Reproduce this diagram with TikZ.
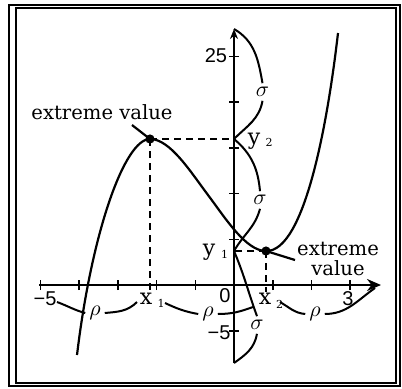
\documentclass[tikz,border=0pt]{standalone}
\usepackage{fontspec}
\setmainfont{DejaVu Serif}
\newfontfamily\numfont{Liberation Sans}
\usetikzlibrary{arrows.meta}
\begin{document}
\begin{tikzpicture}[x=0.5pt,y=0.5pt,line width=1.1pt,
  curve/.style={line width=1.1pt},
  brace/.style={line width=1pt},
  proj/.style={line width=1pt,dash pattern=on 3.5pt off 2.5pt},
  lbl/.style={font=\fontsize{9.8}{10}\selectfont,inner sep=0pt},
  sym/.style={font=\fontsize{11}{11}\selectfont,inner sep=0pt},
  sub/.style={font=\fontsize{5.5}{6}\selectfont,inner sep=0pt},
  num/.style={font=\numfont\fontsize{10}{10}\selectfont,inner sep=0pt},
  greek/.style={font=\fontsize{11}{11}\selectfont,inner sep=1.5pt},
  dot/.style={circle,fill,inner sep=0pt,minimum size=4.6pt},
  tickmark/.style={line width=0.8pt}]
\useasboundingbox (0,0) rectangle (402,388);
% frame
\draw[line width=0.8pt] (9,2) rectangle (400,383);
\draw[line width=1.3pt] (16,5) rectangle (396,380);
% key points
\coordinate (O) at (234,103);
\coordinate (xl) at (39,103);
\coordinate (xr) at (381,103);
\coordinate (yb) at (234,25);
\coordinate (yt) at (234,359);
\coordinate (M) at (150,249);
\coordinate (m) at (266,137);
\coordinate (y2) at (234,249);
\coordinate (y1) at (234,137);
\coordinate (x1) at (150,96);
\coordinate (x2) at (266,96);
% axes
\draw[-{Stealth[length=7pt,width=6pt]}] (xl) -- (xr);
\draw[-{Stealth[length=5pt,width=4pt]}] (yb) -- (yt);
\foreach \k in {-5,-4,-3,-2,-1,1,2,3} \draw[tickmark] ({234+38.7*\k},98) -- ++(0,10);
\foreach \k in {-5,5,10,15,20,25} \draw[tickmark] (229,{103+9.14*\k}) -- ++(10,0);
% cubic
\draw[curve] (77,33) .. controls (92,158) and (125,249) .. (M)
  .. controls (170,249) and (190,217) .. (208,193)
  .. controls (226,169) and (246,137) .. (m)
  .. controls (305,136) and (328,268) .. (338,355);
% projections
\draw[proj] (M) -- (y2);
\draw[proj] (M) -- (x1);
\draw[proj] (m) -- (y1);
\draw[proj] (m) -- (x2);
\node[dot] (Md) at (M) {};
\node[dot] (md) at (m) {};
% extreme value labels
\node[lbl] (ev1) at (102,276) {extreme value};
\coordinate (p1) at (132,263);
\draw[curve] (p1) -- (Md.center);
\node[lbl,align=center,font=\fontsize{9.8}{10}\selectfont] (ev2) at (338,129) {extreme\\value};
\coordinate (p2) at (295,128);
\draw[curve] (md.center) -- (p2);
% numbers
\node[num] (n25) at (216,332.5) {25};
\node[num] (nm5y) at (219,55.5) {−5};
\node[num] (n0) at (225,92.5) {0};
\node[num] (n3) at (348,89.5) {3};
\node[num] (nm5x) at (45,89.5) {−5};
% variable labels
\node[sym] (lx1) at (146,89.5) {x};
\node[sub] (lx1s) at (161,85) {1};
\node[sym] (lx2) at (265,89) {x};
\node[sub] (lx2s) at (279.5,83.5) {2};
\node[sym] (ly1) at (209,135.5) {y};
\node[sub] (ly1s) at (224.5,133.5) {1};
\node[sym] (ly2) at (254,247) {y};
\node[sub] (ly2s) at (269,245.5) {2};
% sigma and rho labels
\node[greek] (s1) at (262.5,296) {$\sigma$};
\node[greek] (s2) at (260,188) {$\sigma$};
\node[greek] (s3) at (257,63) {$\sigma$};
\node[greek] (r1) at (95,75) {$\rho$};
\node[greek] (r2) at (208,74) {$\rho$};
\node[greek] (r3) at (315,74) {$\rho$};
% sigma braces
\draw[brace] (yt) to[out=-30,in=100] (s1.north);
\draw[brace] (s1.south) to[out=-100,in=45] (y2);
\draw[brace] (y2) to[out=-40,in=95] (s2.north);
\draw[brace] (s2.south) to[out=-105,in=60] (y1);
\draw[brace] (y1) to[out=-67,in=110] (s3.north);
\draw[brace] (s3.south) to[out=-100,in=35] (yb);
% rho braces
\coordinate (a1s) at (57,86);
\coordinate (a1e) at (137,86);
\coordinate (a2s) at (165,85);
\coordinate (a2e) at (253,81);
\coordinate (a3s) at (280,86);
\coordinate (a3e) at (375,100);
\draw[brace] (a1s) to[out=-20,in=165] (r1.west);
\draw[brace] (r1.east) to[out=5,in=-135] (a1e);
\draw[brace] (a2s) to[out=-25,in=170] (r2.west);
\draw[brace] (r2.east) to[out=0,in=-160] (a2e);
\draw[brace] (a3s) to[out=-30,in=175] (r3.west);
\draw[brace] (r3.east) to[out=0,in=-145] (a3e);
\end{tikzpicture}
\end{document}
